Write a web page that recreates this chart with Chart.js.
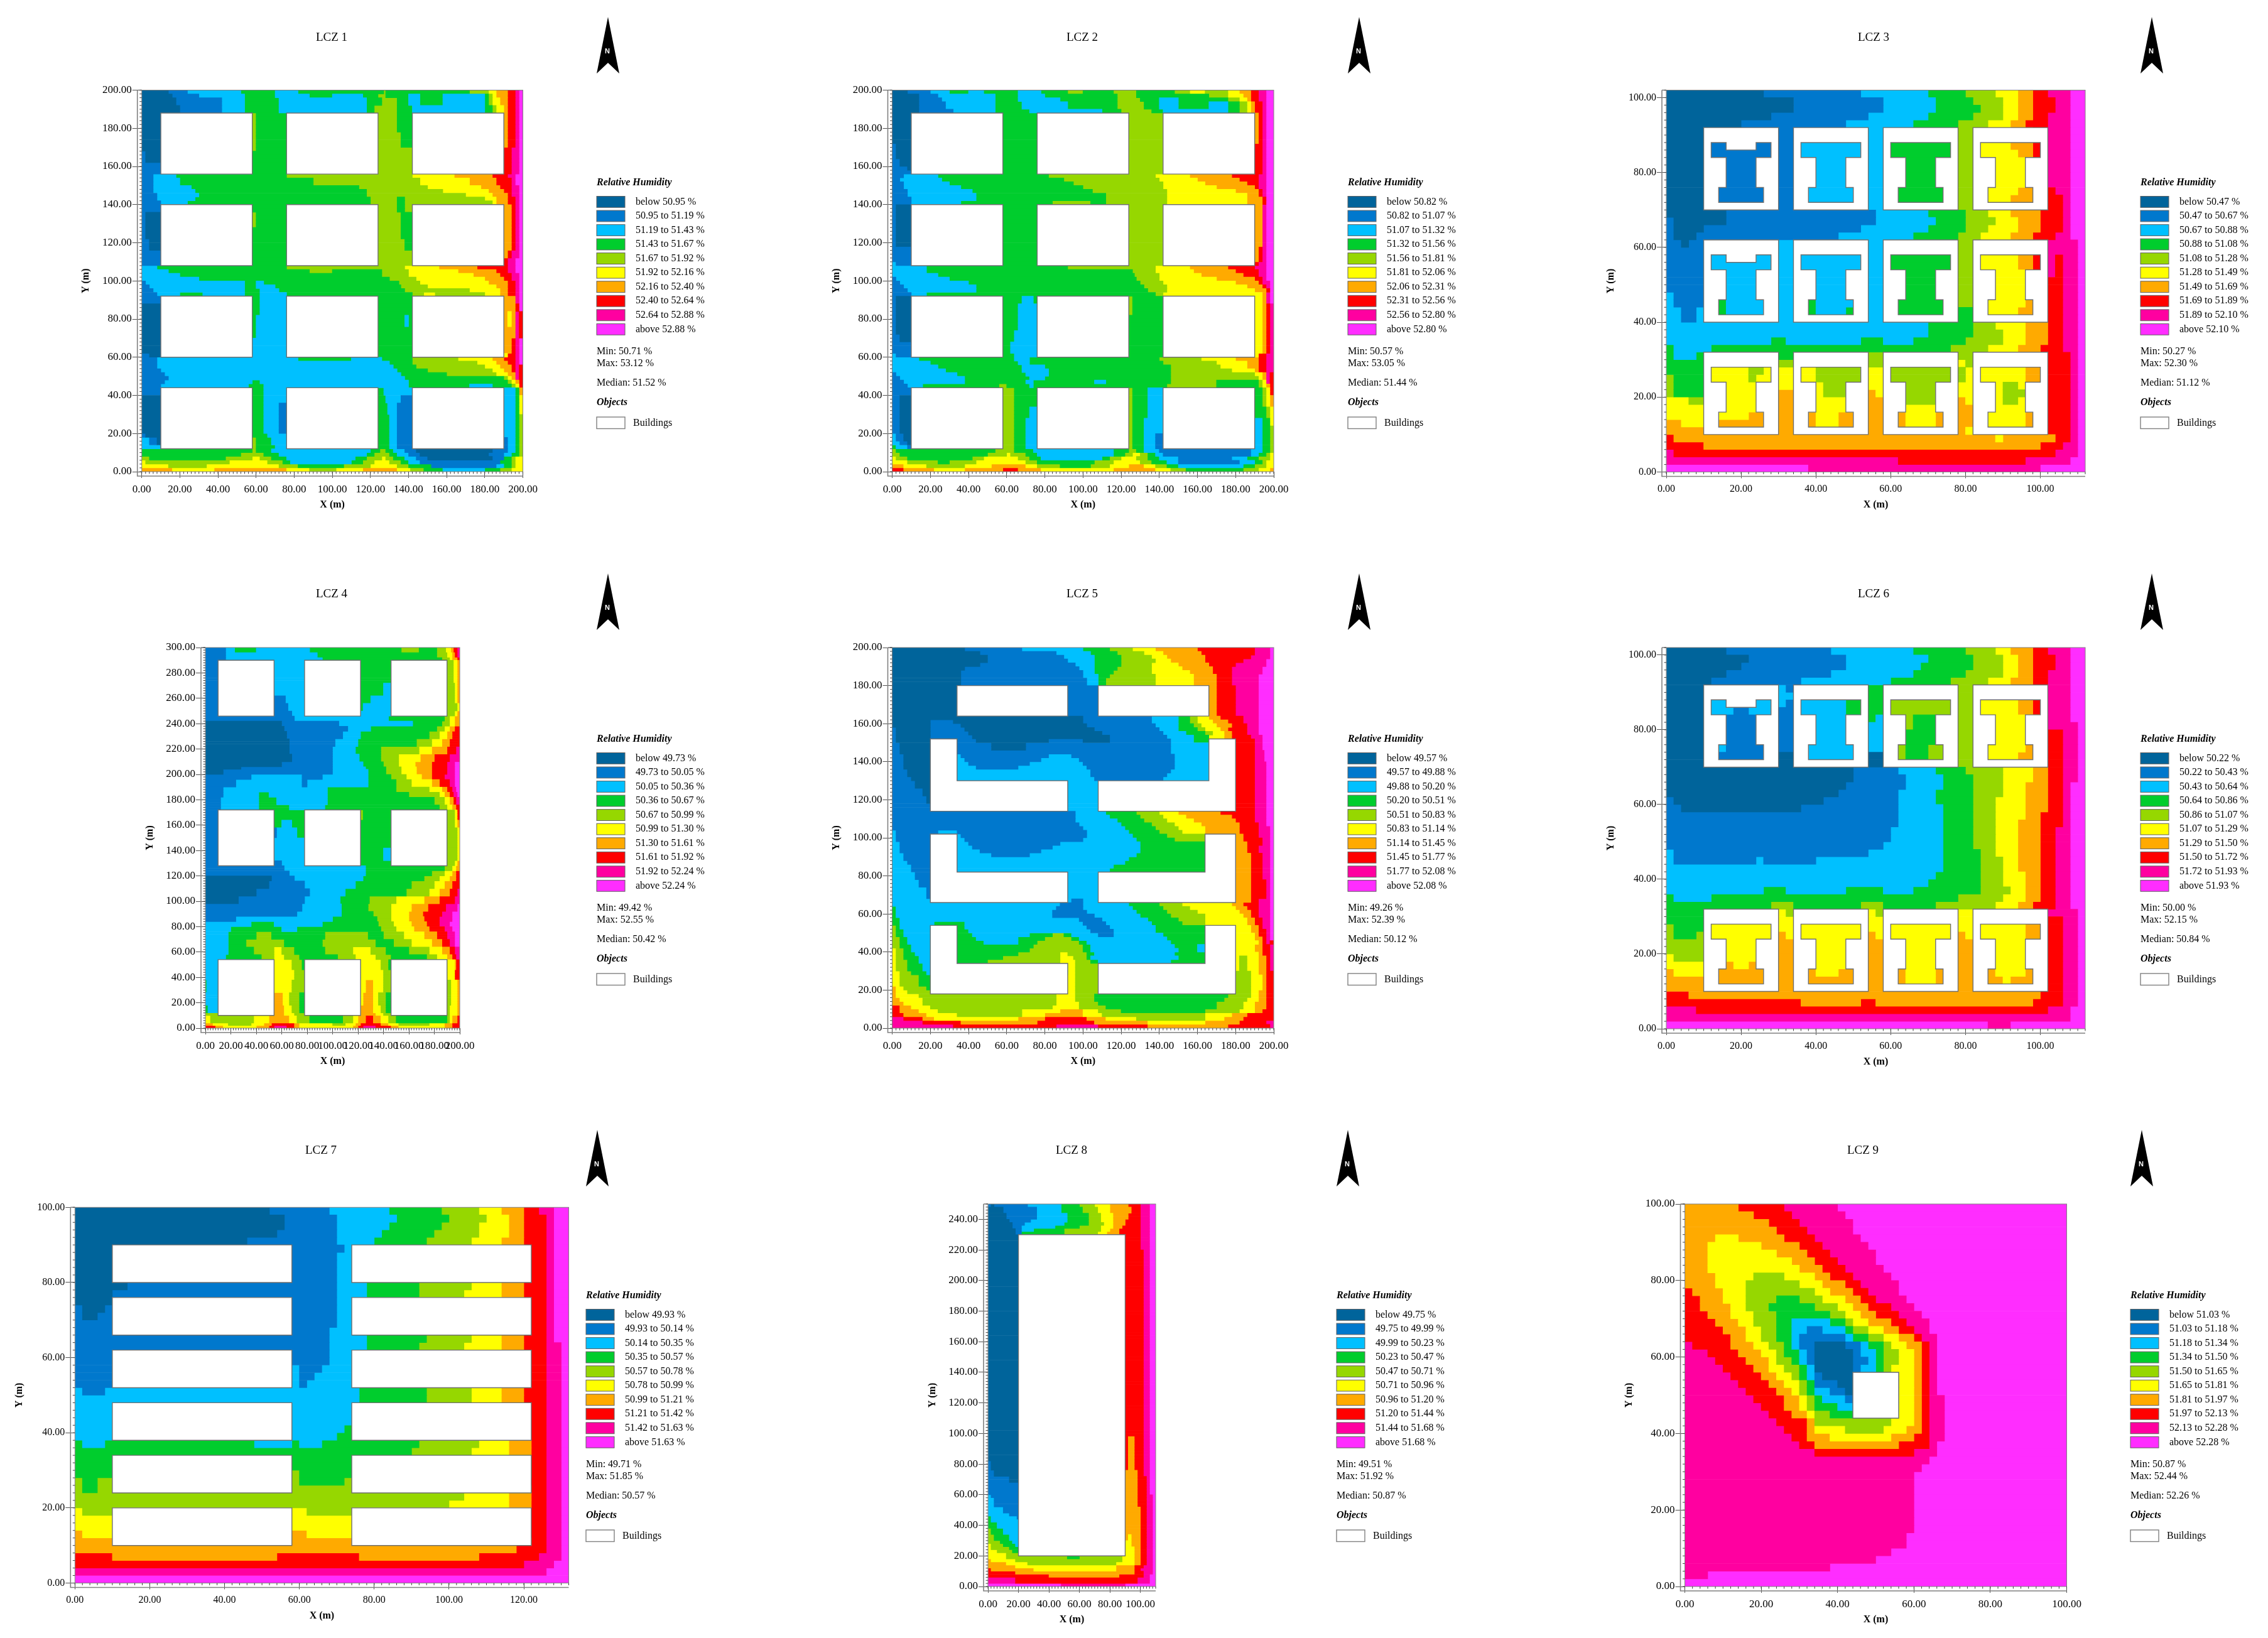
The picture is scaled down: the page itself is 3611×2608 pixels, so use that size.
<!DOCTYPE html>
<html>
<head>
<meta charset="utf-8">
<title>LCZ relative humidity maps</title>
<script src="https://cdn.jsdelivr.net/npm/chart.js@4/dist/chart.umd.min.js"></script>
<style>
html, body { margin: 0; padding: 0; background: #fff; }
canvas { position: absolute; }
</style>
</head>
<body>
<script>
// colour classes, lowest to highest
const classColors = ['#00649b', '#0078cd', '#00c0ff', '#00cd2d', '#96d700', '#ffff00', '#ffaa00', '#ff0000', '#ff00a0', '#ff2dff'];

const lcz1Limits = [50.95, 51.19, 51.43, 51.67, 51.92, 52.16, 52.40, 52.64, 52.88];
const lcz2Limits = [50.82, 51.07, 51.32, 51.56, 51.81, 52.06, 52.31, 52.56, 52.80];
const lcz3Limits = [50.47, 50.67, 50.88, 51.08, 51.28, 51.49, 51.69, 51.89, 52.10];
const lcz4Limits = [49.73, 50.05, 50.36, 50.67, 50.99, 51.30, 51.61, 51.92, 52.24];
const lcz5Limits = [49.57, 49.88, 50.20, 50.51, 50.83, 51.14, 51.45, 51.77, 52.08];
const lcz6Limits = [50.22, 50.43, 50.64, 50.86, 51.07, 51.29, 51.50, 51.72, 51.93];
const lcz7Limits = [49.93, 50.14, 50.35, 50.57, 50.78, 50.99, 51.21, 51.42, 51.63];
const lcz8Limits = [49.75, 49.99, 50.23, 50.47, 50.71, 50.96, 51.20, 51.44, 51.68];
const lcz9Limits = [51.03, 51.18, 51.34, 51.50, 51.65, 51.81, 51.97, 52.13, 52.28];
const lcz1Stats = [50.71, 53.12, 51.52];
const lcz2Stats = [50.57, 53.05, 51.44];
const lcz3Stats = [50.27, 52.30, 51.12];
const lcz4Stats = [49.42, 52.55, 50.42];
const lcz5Stats = [49.26, 52.39, 50.12];
const lcz6Stats = [50.00, 52.15, 50.84];
const lcz7Stats = [49.71, 51.85, 50.57];
const lcz8Stats = [49.51, 51.92, 50.87];
const lcz9Stats = [50.87, 52.44, 52.26];

// rows: [top y of the band, 'class endX class endX ... class'], each band runs down to the next
const lcz1Rows = [
[200,'0 14 1 24 2 52 3 70 2 82 3 127 4 128 3 172 4 182 5 186 6 192 7 196 8 198 9'],
[198,'0 16 1 30 2 54 3 70 2 88 3 100 2 116 3 124 4 128 3 140 2 146 3 158 2 180 3 182 4 184 5 186 6 192 7 196 8 198 9'],
[196,'0 18 1 42 2 54 3 72 2 118 3 126 4 134 3 140 2 146 3 158 2 180 3 182 4 184 5 188 6 192 7 196 8 198 9'],
[192,'0 20 1 42 2 54 3 72 2 118 3 122 4 134 3 142 2 180 3 184 4 186 5 190 6 192 7 196 8 198 9'],
[188,'0 58 4 60 3 76 4 134 3 142 6 192 7 196 8 198 9'],
[178,'0 58 4 60 3 76 4 136 3 142 6 192 7 196 8 198 9'],
[170,'0 58 4 60 3 76 4 142 7 194 8 198 9'],
[168,'1 2 0 58 3 76 4 142 7 194 8 198 9'],
[162,'1 58 3 76 4 142 7 194 8 198 9'],
[156,'1 6 2 18 3 76 4 142 5 164 6 184 7 192 8 196 9'],
[154,'1 6 2 20 3 90 4 146 5 172 6 186 7 194 8 196 9'],
[150,'1 6 2 26 3 114 4 150 5 178 6 188 7 194 8 198 9'],
[148,'1 6 2 28 3 118 4 158 5 182 6 190 7 194 8 198 9'],
[146,'1 8 2 30 3 118 4 170 5 184 6 192 7 194 8 198 9'],
[144,'1 8 2 28 3 120 4 134 3 138 4 180 5 186 6 192 7 196 8 198 9'],
[142,'1 10 2 24 3 120 4 134 3 138 4 184 5 186 6 192 7 196 8 198 9'],
[140,'1 58 3 76 4 134 3 138 4 142 6 194 7 196 8 198 9'],
[136,'1 2 0 58 4 60 3 76 4 136 3 142 6 194 7 196 8 198 9'],
[128,'1 2 0 58 3 76 4 136 3 142 6 194 7 196 8 198 9'],
[122,'1 4 0 58 3 76 4 138 3 142 6 194 7 196 8 198 9'],
[116,'1 58 3 76 4 142 6 192 7 194 8 198 9'],
[112,'1 58 3 76 4 142 7 192 8 196 9'],
[108,'2 8 3 76 4 138 5 156 6 176 7 192 8 196 9'],
[106,'2 14 3 88 4 100 3 126 4 140 5 166 6 186 7 192 8 196 9'],
[104,'2 20 3 126 4 140 5 174 6 188 7 194 8 198 9'],
[102,'2 30 3 130 4 144 5 180 6 190 7 194 8 198 9'],
[100,'1 2 2 54 3 60 2 64 3 135 4 146 5 182 6 192 7 196 8 198 9'],
[98,'1 4 2 54 3 60 2 70 3 136 4 150 5 186 6 192 7 196 8 198 9'],
[96,'1 6 2 54 3 62 2 72 3 138 4 172 5 188 6 192 7 196 8 198 9'],
[94,'1 8 2 20 3 32 2 54 3 62 2 76 3 142 4 148 5 154 4 180 5 188 6 192 7 196 8 198 9'],
[92,'1 58 3 62 2 76 3 142 6 196 8 198 9'],
[88,'0 58 3 62 2 76 3 142 6 196 7 198 9'],
[84,'0 58 3 62 2 76 3 142 6 192 5 194 6 196 8 198 7'],
[82,'0 58 3 60 2 76 3 138 2 140 3 142 6 192 5 194 6 196 8 198 7'],
[76,'0 58 3 60 2 76 3 142 6 196 8 198 7'],
[70,'0 58 2 76 3 142 6 194 7 196 8 198 9'],
[62,'1 4 0 58 2 76 3 142 5 192 7 196 8 198 9'],
[60,'1 8 2 82 3 110 2 126 3 142 4 166 5 184 6 190 7 196 8 198 9'],
[58,'1 8 2 130 3 142 4 176 5 186 6 192 7 196 8 198 9'],
[56,'1 8 2 132 3 144 4 180 5 188 6 194 7 196 8 198 7'],
[54,'1 10 2 134 3 150 4 184 5 190 6 194 7 196 8 198 7'],
[52,'1 12 2 136 3 160 4 186 5 192 6 196 8 198 7'],
[50,'1 14 2 138 3 190 4 192 5 194 6 196 8 198 7'],
[48,'1 12 2 58 3 62 2 140 3 192 4 194 5 196 6 198 7'],
[46,'1 10 2 56 3 64 2 140 3 172 2 184 3 194 4 196 5 198 7'],
[44,'1 58 3 64 2 76 3 127 2 196 3 198 6'],
[40,'0 58 3 64 2 76 3 128 2 136 1 190 2 196 3 198 5'],
[36,'0 58 3 64 2 72 1 76 3 129 2 134 1 190 2 196 3 198 5'],
[30,'0 58 3 64 2 72 1 76 3 130 2 134 1 190 2 196 3 198 4'],
[20,'1 2 0 58 3 66 2 76 3 130 2 134 1 190 2 196 3 198 4'],
[18,'2 4 1 8 0 58 4 60 3 68 2 76 3 130 2 134 1 192 2 196 3 198 4'],
[14,'2 10 0 58 4 60 3 70 2 76 3 130 2 134 1 192 2 196 3 198 4'],
[12,'3 58 4 60 3 68 2 120 3 125 4 128 3 132 2 138 1 144 0 184 1 192 2 196 3 198 4'],
[10,'3 52 4 64 3 72 2 118 3 122 4 130 3 134 2 140 1 146 0 182 1 190 2 194 3 198 4'],
[8,'4 4 3 44 4 58 5 62 4 68 3 76 2 112 3 118 4 126 5 128 4 132 3 138 2 144 1 150 0 184 1 190 3 194 4 196 5'],
[6,'5 2 4 46 5 66 4 74 3 78 2 110 3 116 4 122 5 130 4 136 3 140 2 146 1 188 3 194 4 196 5'],
[4,'5 14 4 34 5 72 4 82 3 106 4 120 5 134 4 140 3 152 1 186 2 190 3 194 4 196 5'],
[2,'6 16 5 38 6 76 5 88 4 102 5 116 6 134 5 141 4 148 3 158 2 180 3 188 4 194 5']
];
const lcz2Rows = [
[200,'0 8 1 20 2 30 3 40 2 48 3 66 2 78 3 92 4 100 3 116 4 128 3 148 4 156 5 164 4 176 5 182 6 188 7 192 8 196 9'],
[198,'0 14 1 24 2 54 3 66 2 80 3 118 4 128 3 148 3 166 4 176 5 184 6 188 7 192 8 196 9'],
[196,'0 14 1 26 2 54 3 66 2 88 3 118 4 130 3 140 2 150 3 176 4 182 5 186 6 188 7 192 8 196 9'],
[194,'0 14 1 28 2 54 3 68 2 92 3 118 4 132 3 140 2 150 3 166 2 176 3 182 4 186 5 188 6 190 7 194 8 196 9'],
[190,'0 14 1 32 2 54 3 72 2 110 3 120 4 136 3 142 2 176 3 182 4 186 5 188 6 190 7 194 8 196 9'],
[188,'0 58 3 76 4 142 6 192 7 194 8 196 9'],
[172,'1 2 0 58 3 76 4 142 7 194 8 196 9'],
[164,'1 4 0 58 3 76 4 142 7 194 8 196 9'],
[160,'1 8 0 58 3 76 4 142 7 194 8 196 9'],
[158,'1 58 3 76 4 142 7 194 8 196 9'],
[156,'1 6 2 24 3 82 4 138 5 156 6 178 7 192 8 196 9'],
[154,'1 4 2 26 3 90 4 140 5 160 6 182 7 192 8 196 9'],
[152,'1 6 2 30 3 95 4 142 5 164 6 186 7 192 8 196 9'],
[150,'1 6 2 36 3 100 4 142 5 170 6 190 7 192 8 196 9'],
[148,'1 8 2 42 3 105 4 144 5 180 6 192 7 194 8 196 9'],
[146,'1 8 2 44 3 112 4 144 5 186 6 192 7 194 8 196 9'],
[144,'1 10 2 44 3 112 4 144 5 186 6 194 7 196 9'],
[142,'1 10 2 36 3 84 4 104 3 112 4 144 5 186 6 194 7 196 9'],
[140,'1 2 0 58 3 76 4 142 6 194 8 196 9'],
[118,'1 58 3 76 4 142 6 192 7 194 8 196 9'],
[110,'2 2 1 58 3 76 4 142 7 192 8 196 9'],
[108,'2 18 3 92 4 138 5 156 6 176 7 190 8 196 9'],
[106,'2 18 3 126 4 138 5 158 6 180 7 192 8 196 9'],
[104,'2 24 3 127 4 140 5 162 6 184 7 192 8 196 9'],
[102,'1 2 2 30 3 128 4 140 5 170 6 190 7 194 8 196 9'],
[100,'1 4 2 40 3 130 4 142 5 180 6 192 7 194 8 198 9'],
[98,'1 6 2 44 3 132 4 144 5 186 6 194 7 196 8 198 9'],
[96,'1 8 2 44 3 134 4 144 5 190 6 196 7 198 9'],
[94,'1 10 2 18 3 138 4 142 5 194 6 196 8 198 9'],
[92,'1 2 0 58 3 68 2 74 3 124 4 126 3 190 5 194 6 196 8 198 9'],
[88,'1 2 0 58 3 66 2 76 3 124 4 126 3 190 5 194 6 196 7 198 8'],
[82,'1 2 0 58 3 66 2 76 3 190 5 194 6 196 7 198 8'],
[74,'1 2 0 58 3 64 2 76 3 190 5 194 6 196 7 198 8'],
[72,'1 4 0 58 3 64 2 76 3 190 5 194 6 196 7 198 8'],
[68,'1 58 3 62 2 76 3 190 5 194 6 196 7 198 8'],
[62,'2 2 1 58 3 64 2 76 3 190 5 192 7 196 8'],
[60,'2 14 3 64 2 72 3 140 4 162 5 180 6 192 7 196 8'],
[58,'2 20 3 66 2 72 3 142 4 170 5 186 6 192 7 196 8'],
[56,'2 24 3 68 2 80 3 146 4 172 5 186 6 192 7 196 8'],
[54,'2 28 3 68 2 82 3 146 4 178 5 190 6 192 7 196 8'],
[52,'1 2 2 34 3 70 2 82 3 146 4 190 5 194 6 196 8 198 7'],
[50,'1 4 2 38 3 72 2 80 3 146 4 192 5 194 6 196 8 198 7'],
[48,'1 6 2 38 3 70 2 74 3 106 2 112 3 146 4 170 3 192 4 194 5 196 8 198 7'],
[46,'1 8 2 16 3 56 4 60 3 72 2 74 3 144 4 170 3 192 4 194 5 196 6 198 7'],
[44,'1 58 4 64 3 76 4 126 3 134 2 190 3 194 4 196 5 198 7'],
[40,'1 4 0 58 4 64 3 76 4 126 3 134 2 190 3 194 4 196 5 198 6'],
[34,'1 4 0 58 4 64 3 72 2 76 4 126 3 134 2 190 3 196 4 198 5'],
[28,'1 4 0 58 4 64 3 70 2 76 4 126 3 132 2 194 3 198 5'],
[24,'1 4 0 58 4 64 3 70 2 76 4 126 3 132 2 194 3 198 4'],
[20,'2 2 1 6 0 58 4 64 3 70 2 76 4 126 3 132 2 138 1 190 2 194 3 198 4'],
[16,'2 4 1 8 0 58 4 64 3 70 2 76 4 126 3 132 2 138 1 190 2 194 3 198 4'],
[14,'3 2 2 8 1 10 0 58 4 64 3 70 2 76 4 126 3 132 2 138 1 190 2 194 3 198 4'],
[12,'4 2 3 54 4 64 3 74 2 116 3 124 4 128 3 132 2 140 1 188 2 194 3 198 4'],
[10,'4 4 3 50 4 60 5 62 4 70 3 76 2 116 3 122 4 126 5 130 4 134 3 138 2 142 1 188 2 192 3 196 4 198 5'],
[8,'5 2 4 8 3 42 4 48 5 66 4 72 3 78 2 110 3 114 4 120 5 128 4 134 3 140 2 150 1 178 2 186 3 192 4 198 5'],
[6,'5 8 4 24 3 30 4 44 5 70 4 76 3 106 4 116 5 130 4 136 3 144 2 150 1 182 2 190 3 194 4 196 5'],
[4,'6 6 5 18 4 38 5 52 6 70 5 76 4 88 3 104 4 114 5 124 6 132 5 138 4 144 3 150 2 184 3 190 4 196 5'],
[2,'7 6 6 22 5 38 6 58 7 66 6 78 5 116 6 138 5 146 4 154 3 184 4 192 5 198 6']
];
const lcz3Rows = [
[102,'0 26 1 52 2 70 3 80 4 88 5 94 6 98 7 102 8 108 9'],
[100,'0 34 1 58 2 72 3 82 4 90 5 94 6 98 7 104 8 108 9'],
[98,'0 34 1 58 2 72 3 84 4 90 5 94 6 98 7 104 8 108 9'],
[96,'0 28 1 54 2 70 3 82 4 90 5 94 6 98 7 102 8 108 9'],
[94,'0 20 1 48 2 66 3 78 4 86 5 92 6 96 7 102 8 108 9'],
[92,'0 10 1 34 2 58 3 78 4 82 5 92 6 98 7 100 8 108 9'],
[86,'0 10 1 34 2 58 3 78 4 82 5 94 6 98 7 100 8 108 9'],
[84,'0 10 1 34 2 58 3 78 4 82 5 102 8 108 9'],
[76,'0 10 1 34 2 58 3 78 4 82 5 94 6 102 7 104 8 108 9'],
[74,'0 10 1 34 2 58 3 78 4 82 5 92 6 102 7 106 8 108 9'],
[70,'0 16 1 56 2 70 3 80 4 86 5 92 6 100 7 106 8 108 9'],
[68,'1 2 0 16 1 56 2 72 3 80 4 88 5 94 6 100 7 106 8 108 9'],
[66,'1 2 0 10 1 52 2 70 3 80 4 86 5 94 6 100 7 106 8 108 9'],
[64,'1 2 0 8 1 46 2 66 3 78 4 84 5 92 6 98 7 104 8 108 9'],
[62,'1 4 0 6 1 10 2 58 3 78 4 82 5 94 6 98 7 102 8 110 9'],
[60,'1 10 2 58 3 78 4 82 5 94 6 98 7 102 8 110 9'],
[58,'1 10 2 58 3 78 4 82 5 94 6 98 7 102 8 104 7 106 8 110 9'],
[54,'1 10 2 58 3 78 4 82 5 102 8 104 7 106 8 110 9'],
[52,'1 10 2 58 3 78 4 82 5 102 7 106 8 110 9'],
[48,'2 2 1 10 2 58 3 78 4 82 5 102 7 106 8 110 9'],
[46,'2 2 1 10 3 16 2 38 3 40 2 58 3 78 4 82 5 96 6 102 7 106 8 110 9'],
[44,'2 4 1 8 2 10 3 16 2 38 3 40 2 48 3 50 2 58 3 82 5 94 6 102 7 106 8 110 9'],
[40,'2 70 3 82 4 88 5 96 6 102 7 106 8 110 9'],
[38,'2 70 3 82 4 90 5 96 6 102 7 106 8 110 9'],
[36,'2 28 3 32 2 52 3 58 2 66 3 80 4 90 5 96 6 102 7 106 8 110 9'],
[34,'3 2 2 12 3 76 4 86 5 94 6 100 7 106 8 110 9'],
[32,'3 2 2 8 3 10 3 34 4 58 4 82 7 108 8 110 9'],
[30,'3 30 4 58 5 80 4 82 7 108 8 110 9'],
[28,'3 10 5 22 4 26 5 40 4 54 5 58 4 80 5 96 6 102 7 108 8 110 9'],
[26,'4 2 3 10 5 22 4 24 5 40 4 54 5 58 4 80 5 96 6 102 7 108 8 110 9'],
[24,'4 2 3 10 5 42 4 54 5 58 4 78 5 90 4 94 5 102 7 108 8 110 9'],
[22,'4 2 3 10 5 30 6 34 5 42 4 54 6 56 5 58 4 78 5 90 4 96 5 102 7 108 8 110 9'],
[20,'5 6 4 10 5 30 6 34 5 54 6 58 5 64 4 72 6 80 5 90 4 94 5 102 7 108 8 110 9'],
[18,'5 30 6 34 5 54 6 58 5 78 6 82 5 102 7 108 8 110 9'],
[16,'5 22 6 40 5 46 6 64 5 72 6 82 5 96 6 102 7 108 8 110 9'],
[14,'6 4 5 10 6 40 5 46 6 64 5 72 6 82 5 96 6 102 7 108 8 110 9'],
[12,'6 80 5 82 6 102 7 108 8 110 9'],
[10,'7 2 6 88 5 90 6 104 7 108 8 110 9'],
[8,'7 10 6 100 7 106 8 110 9'],
[6,'8 2 7 104 8 110 9'],
[4,'8 62 7 96 8 108 9'],
[2,'9 38 8 100 9']
];
const lcz4Rows = [
[300,'1 16 2 23 3 40 2 82 3 154 4 168 3 182 4 189 5 193 6 195 7 198 8'],
[296,'1 16 2 88 3 182 4 190 5 194 6 196 7 198 8'],
[292,'1 16 2 92 3 186 4 192 5 194 6 198 7'],
[290,'1 54 2 78 3 190 4 195 5 198 6'],
[272,'1 54 2 78 3 140 2 146 3 190 4 196 5 198 6'],
[262,'1 63 2 78 3 130 2 146 3 190 4 196 5 198 6'],
[256,'1 65 2 78 3 124 2 146 3 190 4 198 5'],
[250,'1 68 2 146 3 190 4 196 5 198 6'],
[246,'1 70 2 144 3 188 4 192 5 196 6'],
[242,'0 60 1 105 2 163 3 186 4 192 5 196 6'],
[238,'0 62 1 112 2 130 3 182 4 188 5 192 6 196 7'],
[234,'0 64 1 108 2 122 3 176 4 184 5 190 6 194 7'],
[228,'0 66 1 102 2 120 3 166 4 178 5 186 6 192 7'],
[222,'0 66 1 100 2 118 3 138 4 168 5 178 6 190 7 197 8'],
[216,'0 68 1 100 2 121 3 138 4 152 5 169 6 180 7 192 8'],
[210,'0 60 1 100 2 124 3 140 4 152 5 165 6 178 7 190 8 196 9'],
[206,'0 28 1 100 2 126 3 142 4 154 5 166 6 178 7 190 8 196 9'],
[204,'0 14 1 100 2 128 3 142 4 154 5 166 6 178 7 190 8 196 9'],
[200,'1 36 2 76 1 92 2 128 3 146 4 158 5 170 6 178 7 188 8 196 9'],
[196,'1 24 2 76 1 80 2 128 3 150 4 162 5 178 6 184 7 192 8 196 9'],
[190,'1 14 2 96 3 150 4 176 5 186 6 190 7 194 8 197 9'],
[186,'1 14 2 42 3 50 2 96 3 160 4 184 5 188 6 192 7 195 8 198 9'],
[182,'1 12 2 42 3 56 2 96 3 180 4 188 5 192 6 195 7 197 8'],
[176,'1 12 2 42 3 66 2 94 3 184 4 190 5 194 6 197 7'],
[172,'1 54 3 122 4 124 3 190 4 196 5 198 7'],
[164,'1 54 3 60 2 68 3 190 4 196 5 198 6'],
[158,'1 56 2 72 3 190 4 198 5'],
[150,'1 54 2 78 3 190 4 198 5'],
[142,'1 54 2 78 3 140 2 146 3 190 4 198 5'],
[132,'1 60 2 78 3 190 4 196 5 198 6'],
[128,'1 62 2 126 3 188 4 194 5 197 6'],
[124,'1 66 2 126 3 178 4 188 5 194 6 197 7'],
[120,'0 52 1 70 2 124 3 172 4 184 5 192 6 197 7'],
[116,'0 50 1 78 2 118 3 162 4 180 5 188 6 194 7'],
[110,'0 40 1 82 2 110 3 158 4 176 5 184 6 192 7 198 8'],
[104,'0 26 1 78 2 106 3 129 4 150 5 172 6 184 7 196 8'],
[98,'1 76 2 107 3 128 4 146 5 162 6 175 7 189 8 198 9'],
[92,'1 72 2 107 3 132 4 146 5 160 6 171 7 186 8 194 9'],
[88,'1 24 2 100 3 135 4 146 5 160 6 172 7 184 8 194 9'],
[84,'2 36 3 54 2 92 3 136 4 148 5 162 6 174 7 184 8 192 9'],
[80,'2 20 3 60 2 72 3 138 4 150 5 164 6 176 7 188 8 194 9'],
[76,'2 18 3 40 4 52 3 94 4 128 3 140 4 156 5 172 6 182 7 190 8 196 9'],
[70,'2 18 3 32 4 62 3 92 4 134 3 148 4 162 5 178 6 186 7 192 8 196 9'],
[64,'2 18 3 38 4 54 5 60 4 70 3 94 4 116 5 130 4 142 3 160 4 176 5 186 6 192 7 196 8'],
[58,'2 16 3 44 4 54 5 62 4 74 3 104 4 118 5 134 4 146 3 174 4 182 5 190 6 194 7 197 8'],
[54,'2 54 5 68 4 76 3 122 5 138 4 144 3 190 5 196 6 197 7'],
[46,'2 54 5 70 4 78 3 122 5 140 4 146 3 190 5 196 7'],
[38,'3 1 2 54 5 68 4 78 5 126 6 132 5 140 4 193 5 198 6'],
[28,'2 54 6 61 5 66 4 74 3 78 5 124 6 132 5 136 4 142 3 146 4 193 5 198 6'],
[18,'3 2 2 54 6 62 5 68 4 74 3 78 5 122 6 132 5 138 4 142 3 146 4 192 5 198 6'],
[12,'4 54 6 62 5 70 4 78 5 122 6 134 5 140 4 192 5 198 6'],
[10,'5 4 4 38 5 50 6 66 5 72 4 82 3 108 4 116 5 120 6 126 7 132 6 138 5 144 4 150 3 190 4 192 5 194 6 198 7'],
[4,'6 6 5 18 4 36 5 46 6 52 7 70 6 74 5 100 4 110 5 118 6 122 7 138 6 144 5 152 4 176 5 188 6 194 7'],
[2,'7 8 6 14 5 40 6 50 7 54 8 64 7 70 6 74 5 116 6 120 7 124 8 134 7 146 6 152 5 188 6 194 7']
];
const lcz5Rows = [
[200,'0 38 1 68 2 100 3 114 4 126 5 138 6 160 7 190 8 198 9'],
[198,'0 46 1 86 2 104 3 118 4 132 5 142 6 162 7 190 8 198 9'],
[196,'0 50 1 90 2 106 3 120 4 136 5 144 6 164 7 188 8 198 9'],
[194,'0 50 1 92 2 106 3 120 4 138 5 146 6 164 7 184 8 196 9'],
[192,'0 46 1 96 2 106 3 120 4 136 5 150 6 166 7 180 8 196 9'],
[190,'0 38 1 98 2 106 3 118 4 136 5 152 6 168 7 178 8 194 9'],
[188,'0 36 1 100 2 106 3 116 4 136 5 156 6 168 7 178 8 194 9'],
[186,'0 36 1 100 2 108 3 114 4 138 5 158 6 170 7 178 8 192 9'],
[184,'0 36 1 102 2 108 3 112 4 138 5 158 6 170 7 178 8 192 9'],
[180,'0 92 1 108 6 170 7 180 8 192 9'],
[164,'0 100 1 136 2 150 3 156 4 160 5 166 6 172 7 184 8 192 9'],
[162,'0 20 1 32 0 100 1 136 2 150 3 156 4 160 5 168 6 176 7 184 8 192 9'],
[160,'0 20 1 36 0 102 1 138 2 150 3 158 4 162 5 170 6 178 7 186 8 192 9'],
[158,'1 2 0 20 1 38 0 106 1 140 2 150 3 160 4 164 5 172 6 176 7 186 8 192 9'],
[156,'1 2 0 20 1 40 0 110 1 142 2 154 3 164 4 168 5 174 6 178 7 186 8 192 9'],
[154,'1 2 0 20 1 42 0 114 1 144 2 158 3 166 5 174 6 178 7 188 8 194 9'],
[152,'1 2 0 34 1 44 0 82 1 100 0 114 1 146 2 158 3 180 7 190 8 194 9'],
[150,'1 4 0 34 1 52 0 70 1 146 2 166 7 190 8 194 9'],
[146,'1 4 0 34 1 146 2 166 7 190 8 195 9'],
[144,'1 6 0 34 2 36 1 82 2 94 1 148 2 166 7 190 8 195 9'],
[142,'1 6 0 34 2 38 1 78 2 98 1 148 2 166 7 190 8 195 9'],
[140,'1 6 0 34 2 40 1 72 2 100 1 148 2 166 7 190 8 196 9'],
[138,'1 6 0 34 2 44 1 66 2 102 1 148 2 166 7 190 8 196 9'],
[136,'1 8 0 34 2 104 1 146 2 166 7 190 8 196 9'],
[134,'1 8 0 34 2 104 1 144 2 166 7 190 8 196 9'],
[132,'1 10 0 34 2 106 1 142 2 166 7 190 8 196 9'],
[130,'1 12 0 92 2 108 7 190 8 196 9'],
[126,'1 16 0 92 2 108 7 190 8 196 9'],
[122,'1 18 0 92 2 108 7 190 8 196 9'],
[118,'1 92 2 108 7 190 8 196 9'],
[114,'1 96 2 112 3 128 4 140 5 150 6 172 7 190 8 196 9'],
[112,'1 96 2 114 3 130 4 142 5 154 6 178 7 190 8 196 9'],
[110,'1 96 2 118 3 132 4 144 5 158 6 180 7 190 8 196 9'],
[108,'1 98 2 120 3 136 4 148 5 162 6 182 7 192 8 196 9'],
[106,'1 100 2 122 3 138 4 150 5 164 6 182 7 192 8 198 9'],
[104,'2 2 1 24 2 34 1 102 2 124 3 140 4 152 5 164 6 182 7 192 8 198 9'],
[102,'2 2 1 34 2 36 1 102 2 126 3 144 4 164 6 184 7 192 8 198 9'],
[100,'2 2 1 34 2 38 1 100 2 128 3 148 4 164 6 184 7 194 8 198 9'],
[98,'2 4 1 34 2 40 1 88 2 130 3 164 6 186 7 194 8 198 9'],
[96,'2 4 1 34 2 42 1 84 2 130 3 164 6 186 7 192 8 198 9'],
[94,'2 4 1 34 2 46 1 78 2 130 3 164 6 186 7 192 8 198 9'],
[92,'2 6 1 34 2 52 1 72 2 128 3 164 6 188 7 194 8 198 9'],
[90,'2 6 1 34 2 124 3 164 6 188 7 194 8 198 9'],
[88,'2 8 1 34 2 122 3 164 6 188 7 194 8 198 9'],
[86,'2 10 1 34 2 116 3 164 6 188 7 194 8 198 9'],
[84,'2 10 1 34 2 114 3 164 6 188 7 194 8 198 9'],
[82,'2 12 1 92 2 108 6 188 7 194 8 198 9'],
[78,'2 14 1 92 2 108 6 188 7 196 8 198 9'],
[74,'2 18 1 92 2 108 6 188 7 196 8 198 9'],
[68,'2 94 1 100 2 108 6 188 7 192 8 198 9'],
[66,'2 88 1 100 2 124 3 140 4 152 5 178 6 184 7 192 8 198 9'],
[64,'3 2 2 86 1 100 2 126 3 142 4 156 5 180 6 186 7 192 8 198 9'],
[62,'3 2 2 84 1 102 2 128 3 144 4 160 5 182 6 188 7 192 8 198 9'],
[60,'3 2 2 84 1 106 2 130 3 146 4 164 5 184 6 188 7 192 8 198 9'],
[58,'3 4 2 98 1 110 2 134 3 150 4 164 5 186 6 190 7 194 8 198 9'],
[56,'3 4 2 22 3 38 2 100 1 112 2 136 3 152 4 164 5 186 6 190 7 194 8 198 9'],
[54,'4 2 3 4 2 20 3 38 2 102 1 114 2 138 3 164 5 188 6 192 7 194 8 198 9'],
[52,'4 2 3 6 2 34 3 40 2 104 1 116 2 138 3 164 5 188 6 192 7 196 8 198 9'],
[50,'4 2 3 6 2 34 3 42 2 72 3 84 4 90 3 94 2 108 1 116 2 142 3 164 5 190 6 192 7 196 8 198 9'],
[48,'4 4 3 8 2 34 3 44 2 66 3 80 4 94 3 98 2 144 3 164 5 190 6 194 7 196 8 198 9'],
[46,'4 4 3 8 2 34 3 48 2 66 3 76 4 98 3 102 2 146 3 164 5 192 6 194 7 196 8 198 7'],
[44,'4 4 3 10 2 34 3 74 4 100 3 104 2 148 3 160 2 164 5 190 6 194 7 198 8'],
[42,'5 2 4 6 3 10 2 34 3 72 4 100 3 104 2 150 3 160 2 164 5 190 6 194 7 198 8'],
[40,'5 2 4 6 3 12 2 34 3 66 4 88 5 92 4 102 3 106 2 148 3 164 5 192 6 194 7 198 8'],
[38,'5 2 4 6 3 14 2 34 3 58 4 88 5 95 4 102 3 104 2 150 3 164 5 182 4 186 5 192 6 196 7 198 8'],
[36,'5 2 4 8 3 14 2 34 3 50 4 88 5 96 4 104 3 108 2 146 3 164 5 182 4 186 5 192 6 196 7 198 8'],
[34,'5 2 4 8 3 16 2 92 5 96 4 108 5 182 4 186 5 192 6 196 7 198 8'],
[30,'5 4 4 10 3 18 2 92 5 96 4 188 5 192 6 196 7'],
[28,'5 4 4 14 3 20 5 96 4 188 5 194 6 196 7'],
[22,'6 2 5 6 4 18 3 20 5 96 4 188 5 194 6 196 7'],
[20,'6 2 5 8 4 20 5 96 4 188 5 192 6 196 7'],
[18,'6 2 5 14 4 86 5 96 4 106 3 176 4 188 5 192 6 196 7'],
[16,'6 4 5 16 4 86 5 96 4 106 3 174 4 186 5 192 6 196 7'],
[14,'6 6 5 16 4 86 5 98 4 108 3 170 4 184 5 190 6 196 7'],
[12,'7 4 6 10 5 20 4 84 5 98 4 112 3 170 4 184 5 190 6 196 7'],
[10,'7 4 6 14 5 24 4 68 5 88 6 100 5 108 4 120 3 164 4 182 5 190 6 194 7'],
[8,'7 6 6 18 5 34 4 68 5 80 6 100 5 110 4 164 5 178 6 186 7'],
[6,'8 6 7 16 6 22 5 66 6 80 7 102 6 112 5 128 4 164 5 174 6 184 7'],
[4,'8 16 7 36 6 76 7 106 6 134 5 164 6 182 7 196 8'],
[2,'8 32 7 86 8 108 7 134 6 176 7 198 8']
];
const lcz6Rows = [
[102,'0 16 1 44 2 66 3 80 4 88 5 92 6 98 7 102 8 108 9'],
[100,'0 22 1 48 2 70 3 82 4 90 5 94 6 98 7 104 8 108 9'],
[98,'0 20 1 48 2 68 3 82 4 90 5 94 6 98 7 104 8 108 9'],
[96,'0 16 1 44 2 66 3 80 4 90 5 94 6 98 7 102 8 108 9'],
[94,'0 12 1 36 2 60 3 76 4 86 5 92 6 98 7 102 8 108 9'],
[92,'0 30 2 32 1 34 2 54 3 78 4 82 5 102 8 108 9'],
[90,'0 30 2 34 2 54 3 78 4 82 5 102 8 108 9'],
[88,'0 10 2 32 1 34 2 48 3 58 4 78 4 82 5 94 6 98 7 102 8 108 9'],
[86,'0 10 2 18 1 22 2 30 1 34 2 48 3 58 4 78 4 82 5 94 6 98 7 102 8 108 9'],
[84,'0 10 1 34 2 54 3 56 2 58 4 66 3 78 4 82 5 102 8 108 9'],
[82,'0 10 1 34 2 58 4 66 3 78 4 82 5 102 8 110 9'],
[80,'0 10 1 34 2 58 3 78 4 82 5 102 7 106 8 110 9'],
[76,'0 14 2 16 1 34 2 58 4 64 3 70 4 82 5 96 6 102 7 106 8 110 9'],
[74,'0 14 1 30 0 34 2 54 0 58 4 64 3 70 4 82 5 94 6 102 7 106 8 110 9'],
[70,'0 50 1 62 2 72 3 80 4 90 5 98 6 102 7 106 8 110 9'],
[68,'0 50 1 64 2 74 3 82 4 90 5 98 6 102 7 106 8 110 9'],
[66,'0 48 1 64 2 74 3 82 4 90 5 96 6 102 7 106 8 108 9'],
[64,'0 46 1 62 2 72 3 82 4 90 5 96 6 102 7 106 8 108 9'],
[62,'1 2 0 42 1 62 2 72 3 82 4 88 5 96 6 102 7 106 8 108 9'],
[60,'1 4 0 36 1 62 2 74 3 82 4 88 5 96 6 102 7 106 8 108 9'],
[58,'1 62 2 74 3 82 4 88 5 96 6 100 7 106 8 108 9'],
[56,'1 62 2 74 3 82 4 88 5 94 6 100 7 106 8 108 9'],
[54,'1 60 2 74 3 82 4 88 5 94 6 100 7 104 8 108 9'],
[50,'1 58 2 74 3 82 4 88 5 94 6 100 7 104 8 108 9'],
[48,'2 2 1 54 2 74 3 84 4 88 5 94 6 100 7 104 8 108 9'],
[46,'2 2 1 24 2 26 1 40 2 74 3 84 4 90 5 94 6 100 7 104 8 108 9'],
[44,'2 74 3 84 4 90 5 94 6 100 7 104 8 108 9'],
[42,'2 72 3 84 4 90 5 96 6 100 7 104 8 108 9'],
[40,'2 70 3 84 4 90 5 96 6 100 7 104 8 108 9'],
[38,'2 26 3 32 2 48 3 58 2 66 3 84 4 92 5 96 6 100 7 104 8 108 9'],
[36,'3 2 2 12 3 78 4 90 5 96 6 100 7 104 8 108 9'],
[34,'3 28 4 34 3 52 4 58 3 72 4 88 5 94 6 98 7 104 8 108 9'],
[32,'3 30 5 32 4 34 5 56 4 58 5 102 8 110 9'],
[30,'3 30 5 102 7 106 8 110 9'],
[28,'4 2 3 10 5 96 6 102 7 106 8 110 9'],
[26,'4 2 3 8 4 10 5 30 6 32 5 54 6 56 5 78 6 80 5 96 6 102 7 106 8 110 9'],
[24,'4 10 5 30 6 34 5 54 6 58 5 78 6 82 5 102 7 106 8 110 9'],
[20,'5 2 4 10 5 30 6 34 5 54 6 58 5 78 6 82 5 102 7 106 8 110 9'],
[18,'5 16 6 18 5 22 6 24 5 30 6 34 5 54 6 58 5 78 6 82 5 102 7 106 8 110 9'],
[16,'6 2 5 10 6 40 5 46 6 64 5 72 6 88 5 96 6 102 7 106 8 110 9'],
[14,'6 64 5 72 6 90 5 92 6 102 7 106 8 110 9'],
[10,'7 6 6 100 7 106 8 110 9'],
[8,'7 36 6 52 7 56 6 98 7 106 8 110 9'],
[6,'8 8 7 102 8 108 9'],
[4,'8 108 9'],
[2,'9 86 8 92 9']
];
const lcz7Rows = [
[100,'0 52 1 68 2 84 3 98 4 108 5 114 6 120 7 124 8 128 9'],
[98,'0 56 1 70 2 86 3 100 4 110 5 116 6 120 7 126 8 128 9'],
[96,'0 56 1 70 2 84 3 98 4 108 5 116 6 120 7 126 8 128 9'],
[94,'0 54 1 70 2 82 3 96 4 108 5 116 6 120 7 126 8 128 9'],
[92,'0 46 1 70 2 80 3 94 4 106 5 114 6 120 7 126 8 128 9'],
[90,'0 58 1 72 2 74 7 126 8 128 9'],
[88,'0 58 1 70 2 74 7 126 8 128 9'],
[80,'0 14 1 70 2 78 3 92 4 106 5 114 6 120 7 126 8 128 9'],
[78,'0 10 1 70 2 78 3 92 4 104 5 114 6 120 7 126 8 128 9'],
[76,'0 58 1 70 2 74 7 126 8 128 9'],
[74,'1 2 0 8 1 70 2 74 7 126 8 128 9'],
[72,'1 2 0 6 1 70 2 74 7 126 8 128 9'],
[70,'1 70 2 74 7 126 8 128 9'],
[68,'1 68 2 74 7 126 8 128 9'],
[66,'1 68 2 78 3 94 4 106 5 114 6 120 7 126 8 128 9'],
[64,'1 68 2 78 3 92 4 104 5 114 6 120 7 126 8 130 9'],
[62,'1 68 2 74 7 126 8 130 9'],
[58,'1 58 2 60 1 66 2 74 7 126 8 130 9'],
[56,'1 58 2 60 1 64 2 74 7 126 8 130 9'],
[54,'1 58 2 60 1 62 2 74 7 126 8 130 9'],
[52,'2 2 1 8 2 76 3 94 4 106 5 114 6 120 7 126 8 130 9'],
[50,'2 76 3 94 4 106 5 114 6 120 7 126 8 130 9'],
[48,'2 74 7 126 8 130 9'],
[42,'2 72 3 74 7 126 8 130 9'],
[40,'2 70 3 74 7 126 8 130 9'],
[38,'3 2 2 8 3 48 2 58 3 60 2 66 3 92 4 108 5 116 6 122 7 126 8 130 9'],
[36,'3 90 4 106 5 116 6 122 7 126 8 130 9'],
[34,'3 122 7 126 8 130 9'],
[30,'3 58 4 60 3 122 7 126 8 130 9'],
[28,'4 2 3 6 4 60 3 72 4 74 7 126 8 130 9'],
[26,'4 2 3 6 4 122 7 126 8 130 9'],
[24,'4 104 5 116 6 122 7 126 8 130 9'],
[22,'4 100 5 116 6 122 7 126 8 130 9'],
[20,'5 2 4 10 5 62 4 74 7 126 8 130 9'],
[18,'5 74 7 126 8 130 9'],
[14,'6 2 5 10 6 62 5 74 7 126 8 130 9'],
[12,'6 122 7 126 8 130 9'],
[10,'6 118 7 126 8 130 9'],
[8,'7 10 6 54 7 76 6 108 7 124 8 130 9'],
[6,'7 120 8 128 9'],
[4,'8 126 9'],
[2,'9']
];
const lcz8Rows = [
[250,'1 2 0 4 1 26 2 48 3 60 4 70 5 80 6 92 7 100 8 106 9'],
[248,'0 10 1 32 2 48 3 62 4 72 5 80 6 94 7 100 8 106 9'],
[244,'0 12 1 32 2 52 3 66 4 74 5 82 6 92 7 100 8 106 9'],
[240,'0 14 1 28 2 52 3 66 4 74 5 82 6 90 7 100 8 106 9'],
[238,'0 16 1 24 2 50 3 66 4 76 5 82 6 90 7 100 8 106 9'],
[236,'0 16 1 22 2 44 3 60 4 74 5 82 6 88 7 100 8 106 9'],
[234,'0 18 1 22 2 30 3 50 4 74 5 80 6 86 7 100 8 106 9'],
[232,'0 18 1 22 3 50 4 72 5 78 6 86 7 100 8 106 9'],
[230,'0 90 7 100 8 106 9'],
[220,'0 90 7 102 8 106 9'],
[98,'0 90 7 92 6 96 7 102 8 106 9'],
[82,'1 2 0 90 7 92 6 96 7 102 8 106 9'],
[76,'1 4 0 90 6 98 7 102 8 106 9'],
[72,'1 14 0 90 6 98 7 104 8 106 9'],
[68,'1 90 6 98 7 104 8 106 9'],
[60,'2 2 1 90 6 98 7 104 8 108 9'],
[58,'2 4 1 90 6 98 7 104 8 108 9'],
[52,'2 10 1 90 6 100 7 104 8 108 9'],
[48,'2 14 1 90 6 100 7 104 8 108 9'],
[46,'3 2 2 19 1 90 6 100 7 104 8 108 9'],
[44,'3 2 2 90 6 100 7 104 8 108 9'],
[42,'3 6 2 90 6 100 7 104 8 108 9'],
[38,'4 2 3 10 2 90 6 100 7 104 8 108 9'],
[34,'4 4 3 14 2 90 6 92 5 94 6 100 7 104 8 108 9'],
[30,'4 8 3 16 2 90 5 94 6 100 7 104 8 108 9'],
[28,'5 2 4 10 3 18 2 90 5 94 6 100 7 104 8 108 9'],
[26,'5 2 4 14 3 90 5 96 6 100 7 104 8 108 9'],
[24,'5 6 4 16 3 90 5 96 6 100 7 104 8 108 9'],
[22,'5 12 4 90 5 96 6 100 7 104 8 108 9'],
[20,'5 12 4 52 3 60 4 88 5 96 6 100 7 104 8 108 9'],
[18,'6 2 5 18 4 88 5 96 6 100 7 104 8 108 9'],
[16,'6 12 5 26 4 84 5 96 6 100 7 104 8 108 9'],
[14,'6 18 5 84 6 96 7 102 8 108 9'],
[12,'7 2 6 30 5 84 6 96 7 100 8 108 9'],
[10,'7 18 6 96 7 102 8 108 9'],
[8,'7 40 6 86 7 102 8 106 9'],
[6,'8 18 7 98 8 106 9'],
[2,'9 48 8 90 9']
];
const lcz9Rows = [
[100,'6 14 7 26 8 40 9'],
[98,'6 18 7 28 8 42 9'],
[96,'6 22 7 30 8 44 9'],
[94,'6 24 7 32 8 44 9'],
[92,'6 8 5 14 6 26 7 34 8 46 9'],
[90,'6 6 5 20 6 30 7 36 8 48 9'],
[88,'6 6 5 24 6 32 7 38 8 50 9'],
[86,'6 6 5 28 6 34 7 40 8 50 9'],
[84,'6 6 5 30 6 36 7 42 8 52 9'],
[82,'6 8 5 18 4 26 5 34 6 38 7 44 8 54 9'],
[80,'6 8 5 16 4 30 5 36 6 42 7 46 8 56 9'],
[78,'7 2 6 10 5 16 4 34 5 38 6 44 7 48 8 56 9'],
[76,'7 4 6 10 5 16 4 24 3 30 4 36 5 42 6 46 7 50 8 58 9'],
[74,'7 4 6 12 5 16 4 22 3 34 4 40 5 44 6 48 7 54 8 60 9'],
[72,'7 6 6 12 5 18 4 24 3 38 4 42 5 46 6 50 7 56 8 62 9'],
[70,'7 8 6 14 5 18 4 24 3 28 2 38 3 42 4 44 5 48 6 54 7 58 8 64 9'],
[68,'7 10 6 16 5 20 4 24 3 28 2 32 1 36 2 42 3 44 4 48 5 52 6 56 7 60 8 64 9'],
[66,'7 12 6 16 5 20 4 24 3 28 2 30 1 42 2 44 3 48 4 52 5 56 6 60 7 62 8 66 9'],
[64,'8 2 7 12 6 18 5 22 4 26 3 28 2 30 1 34 0 42 1 46 2 48 3 52 4 54 5 58 6 62 7 64 8 66 9'],
[62,'8 6 7 14 6 20 5 24 4 26 3 30 2 32 1 34 0 44 1 46 2 50 3 52 4 56 5 60 6 62 7 64 8 66 9'],
[60,'8 8 7 16 6 22 5 24 4 28 3 30 2 32 1 34 0 44 1 48 2 50 3 52 4 56 5 60 6 62 7 64 8 66 9'],
[58,'8 10 7 18 6 22 5 26 4 30 3 32 2 34 0 44 1 46 2 50 3 52 4 54 5 60 6 62 7 64 8 66 9'],
[56,'8 12 7 20 6 24 5 28 4 30 3 32 2 34 1 36 0 56 5 60 6 62 7 64 8 66 9'],
[54,'8 14 7 22 6 26 5 30 4 32 3 34 1 40 0 56 5 60 6 62 7 64 8 66 9'],
[52,'8 16 7 24 6 28 5 30 4 32 3 34 2 38 1 42 0 56 5 60 6 62 7 64 8 66 9'],
[50,'8 18 7 26 6 30 5 32 4 34 3 36 2 42 1 56 5 60 6 62 7 64 8 68 9'],
[48,'8 20 7 26 6 30 5 32 4 34 3 40 2 44 1 56 5 60 6 62 7 64 8 68 9'],
[46,'8 22 7 28 6 32 5 34 4 38 3 56 5 60 6 62 7 64 8 68 9'],
[44,'8 24 7 32 6 34 4 54 5 60 6 62 7 64 8 68 9'],
[42,'8 26 7 32 6 34 5 42 4 52 5 58 6 62 7 64 8 68 9'],
[40,'8 28 7 32 6 38 5 54 6 60 7 64 8 68 9'],
[38,'8 30 7 34 6 56 7 64 8 66 9'],
[36,'8 34 7 60 8 66 9'],
[34,'8 64 9'],
[32,'8 62 9'],
[30,'8 60 9'],
[14,'8 58 9'],
[10,'8 54 9'],
[8,'8 50 9'],
[6,'8 38 9'],
[4,'8 6 9'],
[2,'9']
];

// building footprints in metres: x0, y0, x1, y1
const lcz1Blocks = [[10,12,58,44],[76,12,124,44],[142,12,190,44],[10,60,58,92],[76,60,124,92],[142,60,190,92],[10,108,58,140],[76,108,124,140],[142,108,190,140],[10,156,58,188],[76,156,124,188],[142,156,190,188]];
const lcz2Blocks = lcz1Blocks;
const lcz4Blocks = [[10,10,54,54],[78,10,122,54],[146,10,190,54],[10,128,54,172],[78,128,122,172],[146,128,190,172],[10,246,54,290],[78,246,122,290],[146,246,190,290]];
const lcz5Blocks = [[34,164,92,180],[108,164,166,180]];
const lcz7Blocks = [[10,10,58,20],[74,10,122,20],[10,24,58,34],[74,24,122,34],[10,38,58,48],[74,38,122,48],[10,52,58,62],[74,52,122,62],[10,66,58,76],[74,66,122,76],[10,80,58,90],[74,80,122,90]];
const lcz8Blocks = [[20,20,90,230]];
const lcz9Blocks = [[44,44,56,56]];
// L-shaped buildings of LCZ 5, as outline points
const lcz5Outlines = [
  [20,152,34,152,34,130,92,130,92,114,20,114],
  [166,152,180,152,180,114,108,114,108,130,166,130],
  [20,102,34,102,34,82,92,82,92,66,20,66],
  [164,102,180,102,180,66,108,66,108,82,164,82],
  [20,54,34,54,34,34,92,34,92,18,20,18],
  [164,54,180,54,180,18,108,18,108,34,164,34]
];
// courtyard blocks of LCZ 3 and 6: left x, top y, has a notch in the top bar
const lcz3Courts = [[10,92,1],[34,92,0],[58,92,0],[82,92,0],[10,62,1],[34,62,0],[58,62,0],[82,62,0],[10,32,0],[34,32,0],[58,32,0],[82,32,0]];
const lcz6Courts = [[10,92,1],[34,92,0],[58,92,0],[82,92,0],[10,32,0],[34,32,0],[58,32,0],[82,32,0]];

const rowOffsets = [0, 886, 1772];
const colStarts = [0, 1280, 2500];
const colEnds = [1280, 2500, 3611];
const rowEnds = [886, 1772, 2608];

const panels = [
  {name:'LCZ 1', col:0, row:0, rows:lcz1Rows, limits:lcz1Limits, stats:lcz1Stats, xMax:200, yMax:200, tickSize:17, plot:[225.7,143.5,832.5,751], titleX:528, legendX:950, blocks:lcz1Blocks},
  {name:'LCZ 2', col:1, row:0, rows:lcz2Rows, limits:lcz2Limits, stats:lcz2Stats, xMax:200, yMax:200, tickSize:17, plot:[1420.5,143.5,2028,751], titleX:1723, legendX:2146, blocks:lcz2Blocks},
  {name:'LCZ 3', col:2, row:0, rows:lcz3Rows, limits:lcz3Limits, stats:lcz3Stats, xMax:112, yMax:102, tickSize:16, plot:[2653,143.5,3320,751.5], titleX:2983, legendX:3408, courts:lcz3Courts},
  {name:'LCZ 4', col:0, row:1, rows:lcz4Rows, limits:lcz4Limits, stats:lcz4Stats, xMax:200, yMax:300, tickSize:17, plot:[327,1031,732,1637], titleX:528, legendX:950, blocks:lcz4Blocks},
  {name:'LCZ 5', col:1, row:1, rows:lcz5Rows, limits:lcz5Limits, stats:lcz5Stats, xMax:200, yMax:200, tickSize:17, plot:[1420.5,1031,2028,1637], titleX:1723, legendX:2146, blocks:lcz5Blocks, outlines:lcz5Outlines},
  {name:'LCZ 6', col:2, row:1, rows:lcz6Rows, limits:lcz6Limits, stats:lcz6Stats, xMax:112, yMax:102, tickSize:16, plot:[2653,1031,3320,1638], titleX:2983, legendX:3408, courts:lcz6Courts},
  {name:'LCZ 7', col:0, row:2, rows:lcz7Rows, limits:lcz7Limits, stats:lcz7Stats, xMax:132, yMax:100, tickSize:16, plot:[119.3,1922.3,905.5,2520.5], titleX:511, legendX:933, blocks:lcz7Blocks},
  {name:'LCZ 8', col:1, row:2, rows:lcz8Rows, limits:lcz8Limits, stats:lcz8Stats, xMax:110, yMax:250, tickSize:17, plot:[1573,1917,1840,2526], titleX:1706, legendX:2128, blocks:lcz8Blocks},
  {name:'LCZ 9', col:2, row:2, rows:lcz9Rows, limits:lcz9Limits, stats:lcz9Stats, xMax:100, yMax:100, tickSize:17, plot:[2682.5,1917,3290.5,2526], titleX:2966, legendX:3392, blocks:lcz9Blocks}
];

const FONT = '"Liberation Serif", "Times New Roman", serif';
const CELL = 2; // metres per row of the model grid
const Y_AXIS_W = 98;
const X_AXIS_H = 62;

function buildDatasets(rows, xMax) {
  const byClass = classColors.map(() => []);
  rows.forEach((row, i) => {
    const top = row[0];
    const next = i + 1 < rows.length ? rows[i + 1][0] : 0;
    const parts = row[1].split(' ').map(Number);
    let start = 0;
    for (let k = 0; k < parts.length; k += 2) {
      const end = k + 1 < parts.length ? parts[k + 1] : xMax;
      if (end > start) {
        for (let y = top; y > next; y -= CELL) {
          byClass[parts[k]].push({x: [start, end], y: y - CELL / 2});
        }
        start = end;
      }
    }
  });
  return byClass.map((data, c) => ({
    data: data,
    backgroundColor: classColors[c],
    borderWidth: 0,
    grouped: false,
    barPercentage: 1,
    categoryPercentage: 1
  }));
}

function courtRings(c) {
  const x = c[0], t = c[1];
  const inner = [x+2,t-4, x+6,t-4];
  if (c[2]) inner.push(x+6,t-6, x+14,t-6);
  inner.push(x+14,t-4, x+18,t-4, x+18,t-8, x+14,t-8, x+14,t-16, x+16,t-16, x+16,t-20, x+4,t-20, x+4,t-16, x+6,t-16, x+6,t-8, x+2,t-8);
  return [[x,t, x+20,t, x+20,t-22, x,t-22], inner];
}

function tracePoly(ctx, pts, sx, sy) {
  ctx.moveTo(sx.getPixelForValue(pts[0]), sy.getPixelForValue(pts[1]));
  for (let i = 2; i < pts.length; i += 2) {
    ctx.lineTo(sx.getPixelForValue(pts[i]), sy.getPixelForValue(pts[i + 1]));
  }
  ctx.closePath();
}

function drawBuildings(chart, p) {
  const ctx = chart.ctx, sx = chart.scales.x, sy = chart.scales.y;
  const shapes = [];
  (p.blocks || []).forEach(b => shapes.push([[b[0],b[1], b[2],b[1], b[2],b[3], b[0],b[3]]]));
  (p.outlines || []).forEach(o => shapes.push([o]));
  (p.courts || []).forEach(c => shapes.push(courtRings(c)));
  ctx.save();
  ctx.fillStyle = '#fff';
  ctx.strokeStyle = '#707070';
  ctx.lineWidth = 1.4;
  shapes.forEach(rings => {
    ctx.beginPath();
    rings.forEach(r => tracePoly(ctx, r, sx, sy));
    ctx.fill('evenodd');
    ctx.stroke();
  });
  ctx.restore();
}

function drawFrame(chart) {
  const ctx = chart.ctx, a = chart.chartArea, sx = chart.scales.x, sy = chart.scales.y;
  const gap = 7;
  ctx.save();
  ctx.strokeStyle = '#808080';
  ctx.lineWidth = 1;
  ctx.strokeRect(a.left, a.top, a.right - a.left, a.bottom - a.top);
  ctx.lineWidth = 1.6;
  ctx.beginPath();
  ctx.moveTo(a.left - gap, a.top);
  ctx.lineTo(a.left - gap, a.bottom + gap);
  ctx.lineTo(a.right, a.bottom + gap);
  ctx.moveTo(a.left - gap, a.top);
  ctx.lineTo(a.left, a.top);
  ctx.stroke();
  // minor ticks
  ctx.strokeStyle = '#404040';
  ctx.lineWidth = 1;
  ctx.beginPath();
  for (let v = 0; v <= sx.max; v += CELL) {
    const px = sx.getPixelForValue(v);
    ctx.moveTo(px, a.bottom);
    ctx.lineTo(px, a.bottom + 3.5);
  }
  for (let v = 0; v <= sy.max; v += CELL) {
    const py = sy.getPixelForValue(v);
    ctx.moveTo(a.left, py);
    ctx.lineTo(a.left - 3.5, py);
  }
  ctx.stroke();
  ctx.restore();
}

function legendLabels(limits) {
  const f = v => v.toFixed(2);
  const out = ['below ' + f(limits[0]) + ' %'];
  for (let i = 0; i + 1 < limits.length; i++) out.push(f(limits[i]) + ' to ' + f(limits[i + 1]) + ' %');
  out.push('above ' + f(limits[limits.length - 1]) + ' %');
  return out;
}

function drawSide(chart, p) {
  const ctx = chart.ctx;
  const ox = colStarts[p.col];
  const lx = p.legendX - ox;
  ctx.save();
  ctx.textBaseline = 'middle';
  ctx.fillStyle = '#000';
  // title
  ctx.textAlign = 'center';
  ctx.font = '19px ' + FONT;
  ctx.fillText(p.name, p.titleX - ox, 60);
  // north arrow
  ctx.beginPath();
  ctx.moveTo(lx + 18, 27);
  ctx.lineTo(lx + 36, 117);
  ctx.lineTo(lx + 18, 100);
  ctx.lineTo(lx, 117);
  ctx.closePath();
  ctx.fill();
  ctx.fillStyle = '#fff';
  ctx.font = 'bold 11px "Liberation Sans", sans-serif';
  ctx.fillText('N', lx + 17, 82);
  // legend
  ctx.fillStyle = '#000';
  ctx.textAlign = 'left';
  ctx.font = 'italic bold 16px ' + FONT;
  ctx.fillText('Relative Humidity', lx, 291);
  legendLabels(p.limits).forEach((label, i) => {
    const cy = 321.4 + i * 22.55;
    ctx.fillStyle = classColors[i];
    ctx.fillRect(lx, cy - 8.9, 45, 17.8);
    ctx.strokeStyle = '#606060';
    ctx.lineWidth = 1;
    ctx.strokeRect(lx, cy - 8.9, 45, 17.8);
    ctx.fillStyle = '#000';
    ctx.font = '16px ' + FONT;
    ctx.fillText(label, lx + 62, cy);
  });
  ctx.fillText('Min: ' + p.stats[0].toFixed(2) + ' %', lx, 560);
  ctx.fillText('Max: ' + p.stats[1].toFixed(2) + ' %', lx, 579);
  ctx.fillText('Median: ' + p.stats[2].toFixed(2) + ' %', lx, 610);
  ctx.font = 'italic bold 16px ' + FONT;
  ctx.fillText('Objects', lx, 641);
  ctx.fillStyle = '#fff';
  ctx.fillRect(lx, 664, 45, 18.5);
  ctx.strokeStyle = '#808080';
  ctx.lineWidth = 1.4;
  ctx.strokeRect(lx, 664, 45, 18.5);
  ctx.fillStyle = '#000';
  ctx.font = '16px ' + FONT;
  ctx.fillText('Buildings', lx + 58, 674);
  ctx.restore();
}

function axisOptions(max, titleText, tickLength, padding, tickSize, fit) {
  return {
    type: 'linear',
    min: 0,
    max: max,
    offset: false,
    grid: {offset: false, drawOnChartArea: false, drawTicks: true, tickLength: tickLength, tickColor: '#505050', tickWidth: 1},
    border: {display: false},
    ticks: {
      stepSize: 20,
      includeBounds: false,
      autoSkip: false,
      maxRotation: 0,
      minRotation: 0,
      padding: padding,
      color: '#000',
      font: {family: FONT, size: tickSize},
      callback: v => Number(v).toFixed(2)
    },
    title: {display: true, text: titleText, color: '#000', padding: 0, font: {family: FONT, size: 16, weight: 'bold'}},
    afterFit: fit
  };
}

panels.forEach(p => {
  const left = colStarts[p.col], top = rowOffsets[p.row];
  const w = colEnds[p.col] - left, h = rowEnds[p.row] - top;
  const cv = document.createElement('canvas');
  cv.width = w;
  cv.height = h;
  cv.style.left = left + 'px';
  cv.style.top = top + 'px';
  cv.style.width = w + 'px';
  cv.style.height = h + 'px';
  document.body.appendChild(cv);

  new Chart(cv, {
    type: 'bar',
    data: {datasets: buildDatasets(p.rows, p.xMax)},
    options: {
      indexAxis: 'y',
      responsive: false,
      animation: false,
      events: [],
      layout: {padding: {
        left: p.plot[0] - left - Y_AXIS_W,
        right: left + w - p.plot[2],
        top: p.plot[1] - top,
        bottom: top + h - p.plot[3] - X_AXIS_H
      }},
      scales: {
        x: axisOptions(p.xMax, 'X (m)', 10, 8, p.tickSize, s => { s.height = X_AXIS_H; }),
        y: axisOptions(p.yMax, 'Y (m)', 15, 1, p.tickSize, s => { s.width = Y_AXIS_W; })
      },
      plugins: {legend: {display: false}, tooltip: {enabled: false}, title: {display: false}}
    },
    plugins: [{
      id: 'lczDecor',
      afterDatasetsDraw(chart) {
        drawBuildings(chart, p);
        drawFrame(chart);
        drawSide(chart, p);
      }
    }]
  });
});
</script>
</body>
</html>
